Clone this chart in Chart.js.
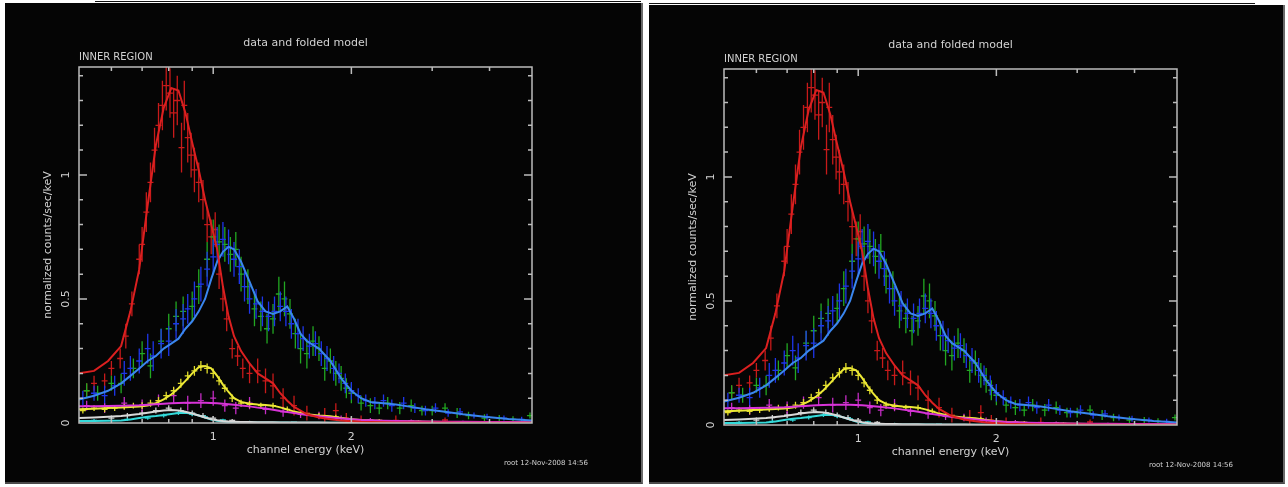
<!DOCTYPE html>
<html>
<head>
<meta charset="utf-8">
<script src="https://cdn.jsdelivr.net/npm/chart.js@4.4.1/dist/chart.umd.min.js"></script>
<style>
  html, body { margin: 0; padding: 0; background: #fff; width: 1288px; height: 487px; overflow: hidden; }
  .panel { position: absolute; background: #050505; border-right: 2px solid #6a6a6a; border-bottom: 2px solid #4a4a4a; }
  .topline { position: absolute; height: 1px; background: #111; }
  canvas { display: block; }
</style>
</head>
<body>
<div class="topline" style="left:95px;top:1px;width:546px"></div>
<div class="topline" style="left:649px;top:3px;width:606px"></div>
<div class="panel" style="left:5px;top:3px;width:636px;height:479px"><canvas id="c1" width="636" height="479"></canvas></div>
<div class="panel" style="left:649px;top:5px;width:634px;height:477px"><canvas id="c2" width="634" height="477"></canvas></div>
<script>
// axis ranges and tick labels
const xMin = 0.51, xMax = 4.95, yMax = 1.435;
const xTickLabels = [1, 2];
const xMinorTicks = [0.6, 0.7, 0.8, 0.9, 3, 4];
const yTickLabels = [0, 0.5, 1];

// folded model curves, all sampled on the same energy grid (keV)
const modelEnergy = [0.51, 0.55, 0.59, 0.63, 0.66, 0.69, 0.72, 0.75, 0.78, 0.81, 0.84, 0.87, 0.9, 0.93, 0.96, 0.99,
  1.02, 1.05, 1.08, 1.11, 1.15, 1.2, 1.25, 1.3, 1.35, 1.4, 1.45, 1.5, 1.55, 1.6, 1.7, 1.8, 1.9, 2.0, 2.1, 2.2,
  2.35, 2.5, 2.7, 2.9, 3.2, 3.5, 3.9, 4.4, 4.95];
const redModel = [0.2, 0.21, 0.25, 0.31, 0.45, 0.62, 0.88, 1.12, 1.27, 1.35, 1.34, 1.25, 1.13, 1.02, 0.9, 0.8,
  0.7, 0.55, 0.43, 0.35, 0.29, 0.24, 0.2, 0.18, 0.16, 0.12, 0.09, 0.065, 0.05, 0.035, 0.022, 0.015, 0.01, 0.007, 0.005, 0.004,
  0.003, 0.002, 0.002, 0.002, 0.002, 0.001, 0.001, 0.001, 0.001];
const blueModel = [0.095, 0.11, 0.13, 0.16, 0.19, 0.22, 0.25, 0.27, 0.3, 0.32, 0.34, 0.38, 0.41, 0.45, 0.5, 0.58,
  0.65, 0.69, 0.71, 0.7, 0.65, 0.57, 0.49, 0.45, 0.44, 0.45, 0.47, 0.42, 0.36, 0.33, 0.3, 0.25, 0.18, 0.13, 0.1, 0.085,
  0.08, 0.075, 0.065, 0.055, 0.045, 0.035, 0.025, 0.016, 0.01];
const yellowModel = [0.055, 0.057, 0.06, 0.062, 0.064, 0.066, 0.07, 0.08, 0.095, 0.115, 0.14, 0.17, 0.2, 0.225, 0.23, 0.22,
  0.19, 0.155, 0.125, 0.1, 0.085, 0.078, 0.075, 0.073, 0.07, 0.063, 0.055, 0.046, 0.04, 0.035, 0.03, 0.027, 0.02, 0.015, 0.012, 0.01,
  0.008, 0.007, 0.006, 0.005, 0.004, 0.004, 0.003, 0.003, 0.002];
const magentaModel = [0.068, 0.068, 0.069, 0.07, 0.071, 0.072, 0.074, 0.076, 0.078, 0.08, 0.081, 0.082, 0.082, 0.082, 0.082, 0.081,
  0.08, 0.078, 0.076, 0.074, 0.071, 0.067, 0.062, 0.058, 0.053, 0.048, 0.044, 0.04, 0.036, 0.032, 0.027, 0.022, 0.018, 0.015, 0.012, 0.011,
  0.009, 0.008, 0.007, 0.006, 0.005, 0.005, 0.004, 0.004, 0.003];
const whiteModel = [0.02, 0.022, 0.025, 0.028, 0.032, 0.036, 0.041, 0.046, 0.05, 0.052, 0.05, 0.045, 0.038, 0.03, 0.022, 0.016,
  0.011, 0.008, 0.006, 0.005, 0.004, 0.004, 0.003, 0.003, 0.003, 0.002, 0.002, 0.002, 0.002, 0.002, 0.002, 0.001, 0.001, 0.001, 0.001, 0.001,
  0.001, 0.001, 0.001, 0.001, 0.001, 0.001, 0.001, 0.001, 0.001];
const cyanModel = [0.008, 0.008, 0.009, 0.01, 0.014, 0.02, 0.025, 0.028, 0.032, 0.036, 0.04, 0.041, 0.037, 0.03, 0.022, 0.014,
  0.009, 0.006, 0.004, 0.003, 0.002, 0.002, 0.002, 0.002, 0.002, 0.002, 0.002, 0.001, 0.001, 0.001, 0.001, 0.001, 0.001, 0.001, 0.001, 0.001,
  0.001, 0.001, 0.001, 0.001, 0.001, 0.001, 0.001, 0.001, 0.001];

// data points: energy, counts, 1-sigma error
const redE = [0.53, 0.55, 0.58, 0.6, 0.627, 0.645, 0.665, 0.69, 0.7, 0.715, 0.73, 0.745, 0.76, 0.775, 0.79, 0.805, 0.82, 0.835, 0.853,
  0.865, 0.88, 0.895, 0.91, 0.93, 0.95, 0.97, 0.99, 1.01, 1.03, 1.05, 1.07, 1.1, 1.13, 1.16, 1.2, 1.25, 1.3, 1.35, 1.42, 1.5, 1.6, 1.75,
  1.85, 1.95, 2.1, 2.5, 3.2];
const redY = [0.13, 0.16, 0.17, 0.22, 0.26, 0.35, 0.48, 0.66, 0.72, 0.85, 0.97, 1.1, 1.2, 1.28, 1.36, 1.33, 1.25, 1.3, 1.11,
  1.28, 1.15, 1.08, 1.02, 0.97, 0.9, 0.8, 0.75, 0.78, 0.6, 0.5, 0.42, 0.3, 0.27, 0.22, 0.2, 0.21, 0.17, 0.15, 0.1, 0.07, 0.04, 0.03,
  0.05, 0.02, 0.01, 0.01, 0.012];
const redErr = [0.03, 0.03, 0.03, 0.03, 0.04, 0.05, 0.05, 0.06, 0.07, 0.08, 0.08, 0.09, 0.09, 0.1, 0.1, 0.1, 0.1, 0.1, 0.1,
  0.1, 0.1, 0.09, 0.09, 0.08, 0.08, 0.07, 0.07, 0.07, 0.06, 0.05, 0.05, 0.04, 0.04, 0.04, 0.04, 0.05, 0.05, 0.05, 0.04, 0.04, 0.03, 0.03,
  0.03, 0.02, 0.02, 0.02, 0.01];

const greenE = [0.53, 0.56, 0.6, 0.63, 0.67, 0.7, 0.73, 0.77, 0.8, 0.83, 0.86, 0.9, 0.93, 0.97, 1.0, 1.03, 1.06, 1.09, 1.12, 1.15,
  1.19, 1.23, 1.27, 1.31, 1.35, 1.39, 1.43, 1.47, 1.51, 1.55, 1.6, 1.65, 1.7, 1.75, 1.8, 1.85, 1.9, 1.95, 2.0, 2.1, 2.2, 2.3, 2.4,
  2.55, 2.7, 2.85, 3.0, 3.2, 3.4, 3.6, 3.9, 4.2, 4.5, 4.9];
const greenY = [0.13, 0.12, 0.16, 0.16, 0.22, 0.28, 0.23, 0.33, 0.38, 0.43, 0.45, 0.47, 0.55, 0.66, 0.75, 0.73, 0.72, 0.68, 0.7, 0.6,
  0.55, 0.46, 0.43, 0.38, 0.42, 0.52, 0.5, 0.44, 0.36, 0.3, 0.28, 0.33, 0.3, 0.22, 0.25, 0.2, 0.18, 0.14, 0.12, 0.08, 0.07, 0.06, 0.08,
  0.06, 0.07, 0.05, 0.05, 0.06, 0.04, 0.03, 0.02, 0.02, 0.015, 0.03];
const greenErr = [0.03, 0.03, 0.03, 0.04, 0.04, 0.05, 0.05, 0.05, 0.06, 0.06, 0.06, 0.06, 0.07, 0.07, 0.07, 0.07, 0.07, 0.07, 0.07, 0.07,
  0.07, 0.07, 0.06, 0.06, 0.06, 0.07, 0.07, 0.06, 0.06, 0.06, 0.06, 0.06, 0.05, 0.05, 0.05, 0.05, 0.05, 0.04, 0.04, 0.03, 0.03, 0.025, 0.025,
  0.025, 0.025, 0.02, 0.02, 0.02, 0.02, 0.015, 0.015, 0.012, 0.012, 0.012];

const blueE = [0.52, 0.55, 0.58, 0.61, 0.64, 0.66, 0.69, 0.72, 0.74, 0.77, 0.8, 0.83, 0.86, 0.88, 0.91, 0.94, 0.97, 1.0, 1.02, 1.05,
  1.08, 1.11, 1.14, 1.17, 1.2, 1.24, 1.28, 1.32, 1.36, 1.4, 1.44, 1.48, 1.53, 1.57, 1.62, 1.67, 1.72, 1.77, 1.83, 1.88, 1.94, 2.0, 2.07,
  2.15, 2.25, 2.35, 2.45, 2.6, 2.75, 2.9, 3.05, 3.25, 3.45, 3.7, 3.95, 4.3, 4.7];
const blueY = [0.1, 0.12, 0.11, 0.15, 0.2, 0.22, 0.25, 0.3, 0.27, 0.32, 0.33, 0.4, 0.42, 0.46, 0.5, 0.56, 0.62, 0.67, 0.72, 0.74,
  0.71, 0.66, 0.63, 0.55, 0.5, 0.48, 0.45, 0.43, 0.45, 0.47, 0.45, 0.4, 0.36, 0.34, 0.31, 0.32, 0.28, 0.26, 0.22, 0.2, 0.16, 0.13, 0.11,
  0.09, 0.08, 0.09, 0.07, 0.08, 0.06, 0.05, 0.06, 0.04, 0.045, 0.03, 0.025, 0.02, 0.015];
const blueErr = [0.03, 0.03, 0.04, 0.04, 0.05, 0.05, 0.05, 0.06, 0.06, 0.06, 0.06, 0.06, 0.06, 0.06, 0.07, 0.07, 0.07, 0.07, 0.07, 0.07,
  0.07, 0.07, 0.07, 0.06, 0.06, 0.06, 0.06, 0.06, 0.06, 0.06, 0.06, 0.06, 0.06, 0.05, 0.05, 0.05, 0.05, 0.05, 0.05, 0.04, 0.04, 0.035, 0.03,
  0.025, 0.025, 0.025, 0.025, 0.025, 0.02, 0.02, 0.02, 0.015, 0.015, 0.012, 0.012, 0.01, 0.01];

const yellowE = [0.52, 0.55, 0.58, 0.61, 0.64, 0.67, 0.7, 0.73, 0.76, 0.79, 0.82, 0.85, 0.88, 0.91, 0.94, 0.97, 1.0, 1.03, 1.06, 1.1,
  1.15, 1.2, 1.27, 1.35, 1.45, 1.55, 1.7, 1.85, 2.0, 2.3, 2.8, 3.5, 4.5];
const yellowY = [0.05, 0.06, 0.055, 0.06, 0.065, 0.07, 0.07, 0.08, 0.09, 0.11, 0.13, 0.16, 0.19, 0.21, 0.23, 0.22, 0.2, 0.17, 0.14, 0.1,
  0.08, 0.075, 0.07, 0.07, 0.055, 0.04, 0.03, 0.025, 0.015, 0.01, 0.006, 0.004, 0.003];
const yellowErr = [0.012, 0.012, 0.012, 0.012, 0.012, 0.012, 0.014, 0.014, 0.015, 0.016, 0.016, 0.018, 0.018, 0.02, 0.02, 0.02, 0.02, 0.018, 0.016, 0.015,
  0.014, 0.014, 0.012, 0.012, 0.012, 0.01, 0.01, 0.008, 0.008, 0.006, 0.005, 0.004, 0.003];

const magentaE = [0.53, 0.58, 0.64, 0.7, 0.76, 0.82, 0.88, 0.94, 1.0, 1.06, 1.12, 1.2, 1.3, 1.42, 1.55, 1.7, 1.9, 2.2, 2.7, 3.5, 4.5];
const magentaY = [0.07, 0.06, 0.08, 0.07, 0.09, 0.11, 0.08, 0.09, 0.1, 0.07, 0.06, 0.08, 0.055, 0.045, 0.035, 0.03, 0.02, 0.012, 0.008, 0.005, 0.004];
const magentaErr = [0.02, 0.02, 0.025, 0.025, 0.025, 0.03, 0.03, 0.03, 0.03, 0.025, 0.025, 0.025, 0.02, 0.02, 0.015, 0.015, 0.01, 0.008, 0.006, 0.004, 0.003];

const whiteE = [0.6, 0.65, 0.7, 0.75, 0.8, 0.85, 0.9, 0.95, 1.0, 1.1];
const whiteY = [0.02, 0.03, 0.04, 0.05, 0.06, 0.05, 0.04, 0.03, 0.02, 0.01];
const whiteErr = [0.01, 0.01, 0.012, 0.012, 0.012, 0.012, 0.01, 0.01, 0.008, 0.006];

const cyanE = [0.55, 0.65, 0.72, 0.78, 0.84, 0.9, 0.96, 1.05, 1.2, 1.5, 2.0, 3.0];
const cyanY = [0.01, 0.015, 0.02, 0.03, 0.04, 0.035, 0.025, 0.012, 0.005, 0.003, 0.002, 0.002];
const cyanErr = [0.006, 0.006, 0.007, 0.008, 0.008, 0.008, 0.007, 0.005, 0.004, 0.003, 0.002, 0.002];

const textColor = '#d2d2d2';
const frameColor = '#bcbcbc';

function points(xs, ys) {
  return xs.map((x, i) => ({ x: x, y: ys[i] }));
}

function dataSet(xs, ys, errs, color) {
  return { type: 'scatter', data: points(xs, ys), err: errs, errColor: color, showLine: false, pointRadius: 0, borderColor: color };
}

function modelSet(vals, color) {
  return {
    type: 'line', data: points(modelEnergy, vals), borderColor: color, borderWidth: 2, pointRadius: 0,
    tension: 0, fill: false
  };
}

// crosses for the data: horizontal bin width + vertical error, drawn under the model lines
const errorBars = {
  id: 'errorBars',
  beforeDatasetsDraw(chart) {
    const ctx = chart.ctx, xs = chart.scales.x, ys = chart.scales.y, a = chart.chartArea;
    ctx.save();
    ctx.beginPath();
    ctx.rect(a.left, a.top, a.right - a.left, a.bottom - a.top);
    ctx.clip();
    ctx.lineWidth = 1.3;
    chart.data.datasets.forEach((ds) => {
      if (!ds.err) return;
      ctx.strokeStyle = ds.errColor;
      ctx.beginPath();
      ds.data.forEach((p, j) => {
        const e = ds.err[j];
        const px = xs.getPixelForValue(p.x), py = ys.getPixelForValue(p.y);
        ctx.moveTo(px, ys.getPixelForValue(Math.max(p.y - e, 0)));
        ctx.lineTo(px, ys.getPixelForValue(p.y + e));
        ctx.moveTo(xs.getPixelForValue(p.x * 0.985), py);
        ctx.lineTo(xs.getPixelForValue(p.x * 1.015), py);
      });
      ctx.stroke();
    });
    ctx.restore();
  }
};

// PGPLOT style box, ticks and labels
const frame = {
  id: 'frame',
  afterDraw(chart) {
    const ctx = chart.ctx, xs = chart.scales.x, ys = chart.scales.y, a = chart.chartArea;
    ctx.save();
    ctx.strokeStyle = frameColor;
    ctx.lineWidth = 1.5;
    ctx.strokeRect(a.left, a.top, a.right - a.left, a.bottom - a.top);
    ctx.beginPath();
    xTickLabels.concat(xMinorTicks).forEach((v) => {
      const len = xTickLabels.includes(v) ? 7 : 4;
      const px = xs.getPixelForValue(v);
      ctx.moveTo(px, a.bottom); ctx.lineTo(px, a.bottom - len);
      ctx.moveTo(px, a.top); ctx.lineTo(px, a.top + len);
    });
    for (let k = 1; k <= 14; k++) {
      const v = k / 10;
      const len = (k % 5 === 0) ? 8 : 4;
      const py = ys.getPixelForValue(v);
      ctx.moveTo(a.left, py); ctx.lineTo(a.left + len, py);
      ctx.moveTo(a.right, py); ctx.lineTo(a.right - len, py);
    }
    ctx.stroke();

    ctx.fillStyle = textColor;
    ctx.font = '11px "DejaVu Sans"';
    ctx.textAlign = 'center';
    ctx.textBaseline = 'middle';
    xTickLabels.forEach((v) => ctx.fillText(String(v), xs.getPixelForValue(v), a.bottom + 14));
    yTickLabels.forEach((v) => {
      ctx.save();
      ctx.translate(a.left - 13, ys.getPixelForValue(v));
      ctx.rotate(-Math.PI / 2);
      ctx.fillText(String(v), 0, 0);
      ctx.restore();
    });

    const cx = (a.left + a.right) / 2;
    ctx.fillText('data and folded model', cx, a.top - 24);
    ctx.fillText('channel energy (keV)', cx, a.bottom + 27);
    ctx.save();
    ctx.translate(a.left - 31, (a.top + a.bottom) / 2);
    ctx.rotate(-Math.PI / 2);
    ctx.fillText('normalized counts/sec/keV', 0, 0);
    ctx.restore();

    ctx.textAlign = 'left';
    ctx.font = '10px "DejaVu Sans"';
    ctx.fillText('INNER REGION', a.left, a.top - 10);
    ctx.font = '7px "DejaVu Sans"';
    ctx.fillText('root 12-Nov-2008 14:56', a.right - 28, a.bottom + 40);
    ctx.restore();
  }
};

function makePanel(id, pad) {
  const datasets = [
    dataSet(redE, redY, redErr, '#c81a1a'),
    dataSet(greenE, greenY, greenErr, '#22a822'),
    dataSet(blueE, blueY, blueErr, '#1e36ea'),
    dataSet(whiteE, whiteY, whiteErr, '#cfcfcf'),
    dataSet(cyanE, cyanY, cyanErr, '#2ccfcf'),
    dataSet(magentaE, magentaY, magentaErr, '#c42cc4'),
    dataSet(yellowE, yellowY, yellowErr, '#e0dc2a'),
    modelSet(redModel, '#dc2020'),
    modelSet(blueModel, '#3a86ee'),
    modelSet(magentaModel, '#d834d8'),
    modelSet(yellowModel, '#ece836'),
    modelSet(whiteModel, '#d8d8d8'),
    modelSet(cyanModel, '#34dada')
  ];
  return new Chart(document.getElementById(id), {
    type: 'line',
    data: { datasets: datasets },
    options: {
      responsive: false,
      animation: false,
      layout: { padding: pad },
      plugins: { legend: { display: false }, tooltip: { enabled: false } },
      scales: {
        x: { type: 'logarithmic', min: xMin, max: xMax, display: false },
        y: { type: 'linear', min: 0, max: yMax, display: false }
      }
    },
    plugins: [errorBars, frame]
  });
}

makePanel('c1', { left: 74, top: 64, right: 109, bottom: 59 });
makePanel('c2', { left: 75, top: 64, right: 106, bottom: 57 });
</script>
</body>
</html>
